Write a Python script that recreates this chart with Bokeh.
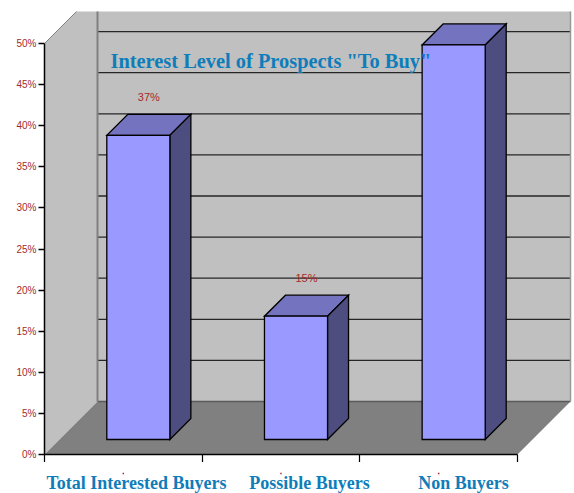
from bokeh.core.properties import value
from bokeh.embed import file_html
from bokeh.layouts import column
from bokeh.models import FixedTicker, LinearAxis, Range1d
from bokeh.plotting import figure
from bokeh.resources import INLINE

categories = ["Total Interested Buyers", "Possible Buyers", "Non Buyers"]
shares = [37, 15, 48]
share_labels = ["37%", "15%", "48%"]
y_ticks = [0, 5, 10, 15, 20, 25, 30, 35, 40, 45, 50]
chart_title = 'Interest Level of Prospects "To Buy"'

WIDTH, HEIGHT = 574, 493
LEFT, RIGHT_AXIS_END, BASE_Y, TOP_Y = 44, 517, 454, 11
CHART_HEIGHT = BASE_Y + 8  # frame plus the category ticks
PX_PER_PCT = 8.22
PX_PER_CAT = (RIGHT_AXIS_END - LEFT) / len(categories)
X_PX = 1 / PX_PER_CAT
Y_PX = 1 / PX_PER_PCT

DEPTH = 53        # oblique offset of the back wall, px
BAR_NEAR = 15     # offset of a bar's front face, px
BAR_FAR = 36      # offset of a bar's rear face, px
BAR_WIDTH = 0.4   # in category units

WALL, FLOOR, EDGE = "#c0c0c0", "#808080", "#808080"
FRONT, TOP, SIDE = "#9999ff", "#7373bf", "#4d4d80"
RED, BLUE = "#a52a2a", "#0e7dba"


def at(cat, pct, depth_px=0):
    """Project a (category, percent) point back by an oblique depth."""
    return cat + depth_px * X_PX, pct + depth_px * Y_PX


def face(points):
    xs, ys = zip(*[at(*pt) for pt in points])
    return list(xs), list(ys)


n = len(categories)
y_top = (BASE_Y - TOP_Y) * Y_PX
x_end = (WIDTH - LEFT) * X_PX

p = figure(
    width=WIDTH, height=CHART_HEIGHT, output_backend="svg", toolbar_location=None,
    x_range=Range1d(0, x_end), y_range=Range1d(0, y_top),
    min_border_left=LEFT, min_border_right=0,
    min_border_top=TOP_Y, min_border_bottom=CHART_HEIGHT - BASE_Y,
    x_axis_type=None, y_axis_type=None, outline_line_color=None,
    background_fill_color="white", border_fill_color="white",
)
p.grid.visible = False

# Back wall, side wall and floor of the box; the top of the box runs past the frame
wall_top = 50
xs, ys = face([(0, 0, DEPTH), (n, 0, DEPTH), (n, wall_top, DEPTH), (0, wall_top, DEPTH)])
p.patch(xs, ys, fill_color=WALL, line_color=None)
xs, ys = face([(0, 0), (0, 0, DEPTH), (0, wall_top, DEPTH), (0, wall_top)])
p.patch(xs, ys, fill_color=WALL, line_color=None)
xs, ys = face([(0, wall_top), (0, wall_top, DEPTH)])
p.line(xs, ys, line_color=EDGE, line_width=1)
xs, ys = face([(0, 0), (n, 0), (n, 0, DEPTH), (0, 0, DEPTH)])
p.patch(xs, ys, fill_color=FLOOR, line_color=None)

# Gridlines across the back wall, and the wall's vertical edges
for tick in y_ticks[1:]:
    xs, ys = face([(0, tick, DEPTH), (n, tick, DEPTH)])
    p.line(xs, ys, line_color="#262626", line_width=1.3)
xs, ys = face([(0, 0, DEPTH), (n, 0, DEPTH)])
p.line(xs, ys, line_color="#5a5a5a", line_width=1.3)
xs, ys = face([(0, 0, DEPTH), (0, wall_top, DEPTH)])
p.line(xs, ys, line_color=EDGE, line_width=2)
xs, ys = face([(n, 0, DEPTH), (n, wall_top, DEPTH)])
p.line(xs, ys, line_color="#999999", line_width=1.5)

# Bars, each drawn as its top, side and front faces
for i, share in enumerate(shares):
    l = i + 0.5 - BAR_WIDTH / 2
    r = i + 0.5 + BAR_WIDTH / 2
    for colour, pts in [
        (TOP, [(l, share, BAR_NEAR), (r, share, BAR_NEAR), (r, share, BAR_FAR), (l, share, BAR_FAR)]),
        (SIDE, [(r, 0, BAR_NEAR), (r, 0, BAR_FAR), (r, share, BAR_FAR), (r, share, BAR_NEAR)]),
        (FRONT, [(l, 0, BAR_NEAR), (r, 0, BAR_NEAR), (r, share, BAR_NEAR), (l, share, BAR_NEAR)]),
    ]:
        xs, ys = face(pts)
        p.patch(xs + xs[:1], ys + ys[:1], fill_color=colour, line_color="black",
                line_width=1.3, line_join="miter")

# Value labels float above the centre of each bar's top face
label_x = [at(i + 0.5, 0, (BAR_NEAR + BAR_FAR) / 2)[0] for i in range(n)]
label_y = [s + 38.5 * Y_PX + BAR_NEAR * Y_PX for s in shares]
p.text(label_x, label_y, text=share_labels, text_color=RED, text_align="center",
       text_baseline="middle", text_font=value("Liberation Sans"), text_font_size="11px")

p.text([(110 - LEFT) * X_PX], [(BASE_Y - 60) * Y_PX], text=[chart_title], text_color=BLUE,
       text_align="left", text_baseline="middle", text_font=value("Liberation Serif"),
       text_font_style="bold", text_font_size="20.4px")

# Percent axis
y_axis = LinearAxis(
    ticker=FixedTicker(ticks=y_ticks), bounds=(0, 50),
    major_label_overrides={t: f"{t}%" for t in y_ticks},
    major_label_text_color=RED, major_label_text_font="Liberation Sans",
    major_label_text_font_size="10px", major_label_standoff=2,
    major_tick_in=0, major_tick_out=6, major_tick_line_color="black", major_tick_line_width=1.3,
    minor_tick_line_color=None, axis_line_color="black", axis_line_width=1.5,
)
p.add_layout(y_axis, "left")

# Category axis carries only the boundary ticks
x_axis = LinearAxis(
    ticker=FixedTicker(ticks=list(range(n + 1))), bounds=(0, n),
    major_label_text_font_size="0px", major_label_text_color=None, major_label_standoff=0,
    major_tick_in=0, major_tick_out=8, major_tick_line_color="black", major_tick_line_width=1.2,
    minor_tick_line_color=None, axis_line_color="black", axis_line_width=1.5,
)
p.add_layout(x_axis, "below")

# Category names sit in a strip under the chart, sharing its horizontal scale
names = figure(
    width=WIDTH, height=HEIGHT - CHART_HEIGHT, output_backend="svg", toolbar_location=None,
    x_range=p.x_range, y_range=Range1d(HEIGHT, CHART_HEIGHT),
    min_border_left=LEFT, min_border_right=0, min_border_top=0, min_border_bottom=0,
    x_axis_type=None, y_axis_type=None, outline_line_color=None,
    background_fill_color="white", border_fill_color="white",
)
names.grid.visible = False
name_px = [136, 309, 463]
names.text([(c - LEFT) * X_PX for c in name_px], [482.5] * n, text=categories, text_color=BLUE,
           text_align="center", text_baseline="middle", text_font=value("Liberation Serif"),
           text_font_style="bold", text_font_size="18px")
names.scatter([i + 0.5 for i in range(n)], [473] * n, marker="square", size=1.5,
              fill_color=RED, line_color=None)

open("out.html", "w").write(file_html(column(p, names, spacing=0), INLINE))
